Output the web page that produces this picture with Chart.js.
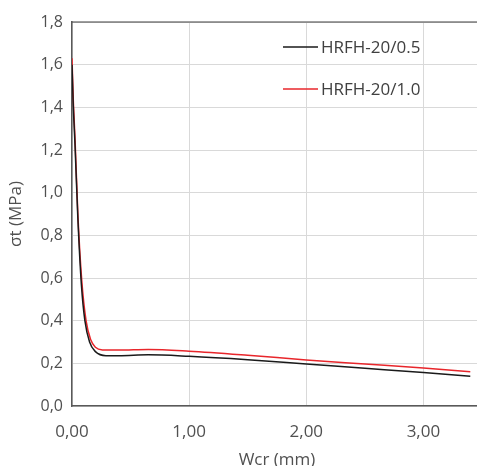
<!DOCTYPE html>
<html>
<head>
<meta charset="utf-8">
<script src="https://cdn.jsdelivr.net/npm/chart.js@4"></script>
<style>
html,body{margin:0;padding:0;background:#fff;overflow:hidden;}
#wrap{width:482px;height:466px;position:relative;}
</style>
</head>
<body>
<div id="wrap"><canvas id="c"></canvas></div>
<script>
// Data
const seriesLabels = ["HRFH-20/0.5", "HRFH-20/1.0"];
const wcr05 = [0, 0.01, 0.026, 0.05, 0.08, 0.11, 0.15, 0.2, 0.29, 0.4, 0.65, 1.0, 1.5, 2.0, 2.5, 3.0, 3.4];
const sigma05 = [1.60, 1.42, 1.22, 0.88, 0.57, 0.40, 0.30, 0.255, 0.236, 0.236, 0.240, 0.233, 0.217, 0.197, 0.177, 0.157, 0.139];
const wcr10 = [0, 0.01, 0.026, 0.05, 0.083, 0.12, 0.16, 0.2, 0.26, 0.4, 0.65, 1.0, 1.5, 2.0, 2.5, 3.0, 3.4];
const sigma10 = [1.63, 1.45, 1.25, 0.90, 0.59, 0.40, 0.31, 0.275, 0.263, 0.262, 0.265, 0.257, 0.238, 0.216, 0.197, 0.178, 0.161];
const yTicks = [0, 0.2, 0.4, 0.6, 0.8, 1.0, 1.2, 1.4, 1.6, 1.8];
const xTicks = [0, 1, 2, 3];

const toPts = (xs, ys) => xs.map((x, i) => ({x: x, y: ys[i]}));
const FONT = "'Open Sans', sans-serif";

const frame = {
  id: 'frame',
  afterDraw(chart) {
    const {ctx, chartArea: a} = chart;
    ctx.save();
    ctx.strokeStyle = '#404040';
    ctx.lineWidth = 1.2;
    ctx.beginPath();
    ctx.moveTo(a.left, a.top);
    ctx.lineTo(a.right + 5, a.top);
    ctx.stroke();
    // legend
    const ds = chart.data.datasets;
    const rows = [a.top + 25, a.top + 67];
    ctx.font = "17px " + FONT;
    ctx.textBaseline = 'middle';
    ctx.textAlign = 'left';
    ds.forEach((d, i) => {
      ctx.strokeStyle = d.borderColor;
      ctx.lineWidth = 1.3;
      ctx.beginPath();
      ctx.moveTo(a.left + 211, rows[i]);
      ctx.lineTo(a.left + 246, rows[i]);
      ctx.stroke();
      ctx.fillStyle = '#404040';
      ctx.fillText(d.label, a.left + 249, rows[i] + 1);
    });
    ctx.restore();
  }
};

new Chart(document.getElementById('c'), {
  type: 'line',
  data: {
    datasets: [
      {label: seriesLabels[0], data: toPts(wcr05, sigma05), borderColor: '#1a1a1a', borderWidth: 1.5, pointRadius: 0, cubicInterpolationMode: 'monotone', fill: false},
      {label: seriesLabels[1], data: toPts(wcr10, sigma10), borderColor: '#e8262b', borderWidth: 1.5, pointRadius: 0, cubicInterpolationMode: 'monotone', fill: false}
    ]
  },
  options: {
    responsive: true,
    maintainAspectRatio: false,
    animation: false,
    devicePixelRatio: 1,
    layout: {padding: {left: 0, top: 22, right: 0, bottom: 0}},
    plugins: {legend: {display: false}, tooltip: {enabled: false}},
    scales: {
      x: {
        type: 'linear', min: 0, max: 3.5,
        afterBuildTicks: s => { s.ticks = xTicks.map(v => ({value: v})); },
        afterFit: s => { s.height = 60; },
        grid: {color: '#d9d9d9', lineWidth: 1, drawTicks: false},
        border: {color: '#595959', width: 1.5},
        ticks: {padding: 16, color: '#505050', font: {family: FONT, size: 17},
                maxRotation: 0, callback: v => v.toFixed(2).replace('.', ',')},
        title: {display: true, text: 'Wcr (mm)', color: '#505050', font: {family: FONT, size: 17}, padding: {top: 0, bottom: -4}}
      },
      y: {
        type: 'linear', min: 0, max: 1.8,
        afterBuildTicks: s => { s.ticks = yTicks.map(v => ({value: v})); },
        afterFit: s => { s.width = 72; },
        grid: {color: '#d9d9d9', lineWidth: 1, drawTicks: false},
        border: {color: '#595959', width: 1.5},
        ticks: {padding: 9, color: '#505050', font: {family: FONT, size: 16},
                callback: v => v.toFixed(1).replace('.', ',')},
        title: {display: true, text: 'σt (MPa)', color: '#505050', font: {family: FONT, size: 17}, padding: {top: 6, bottom: 0}}
      }
    }
  },
  plugins: [frame]
});
</script>
</body>
</html>
